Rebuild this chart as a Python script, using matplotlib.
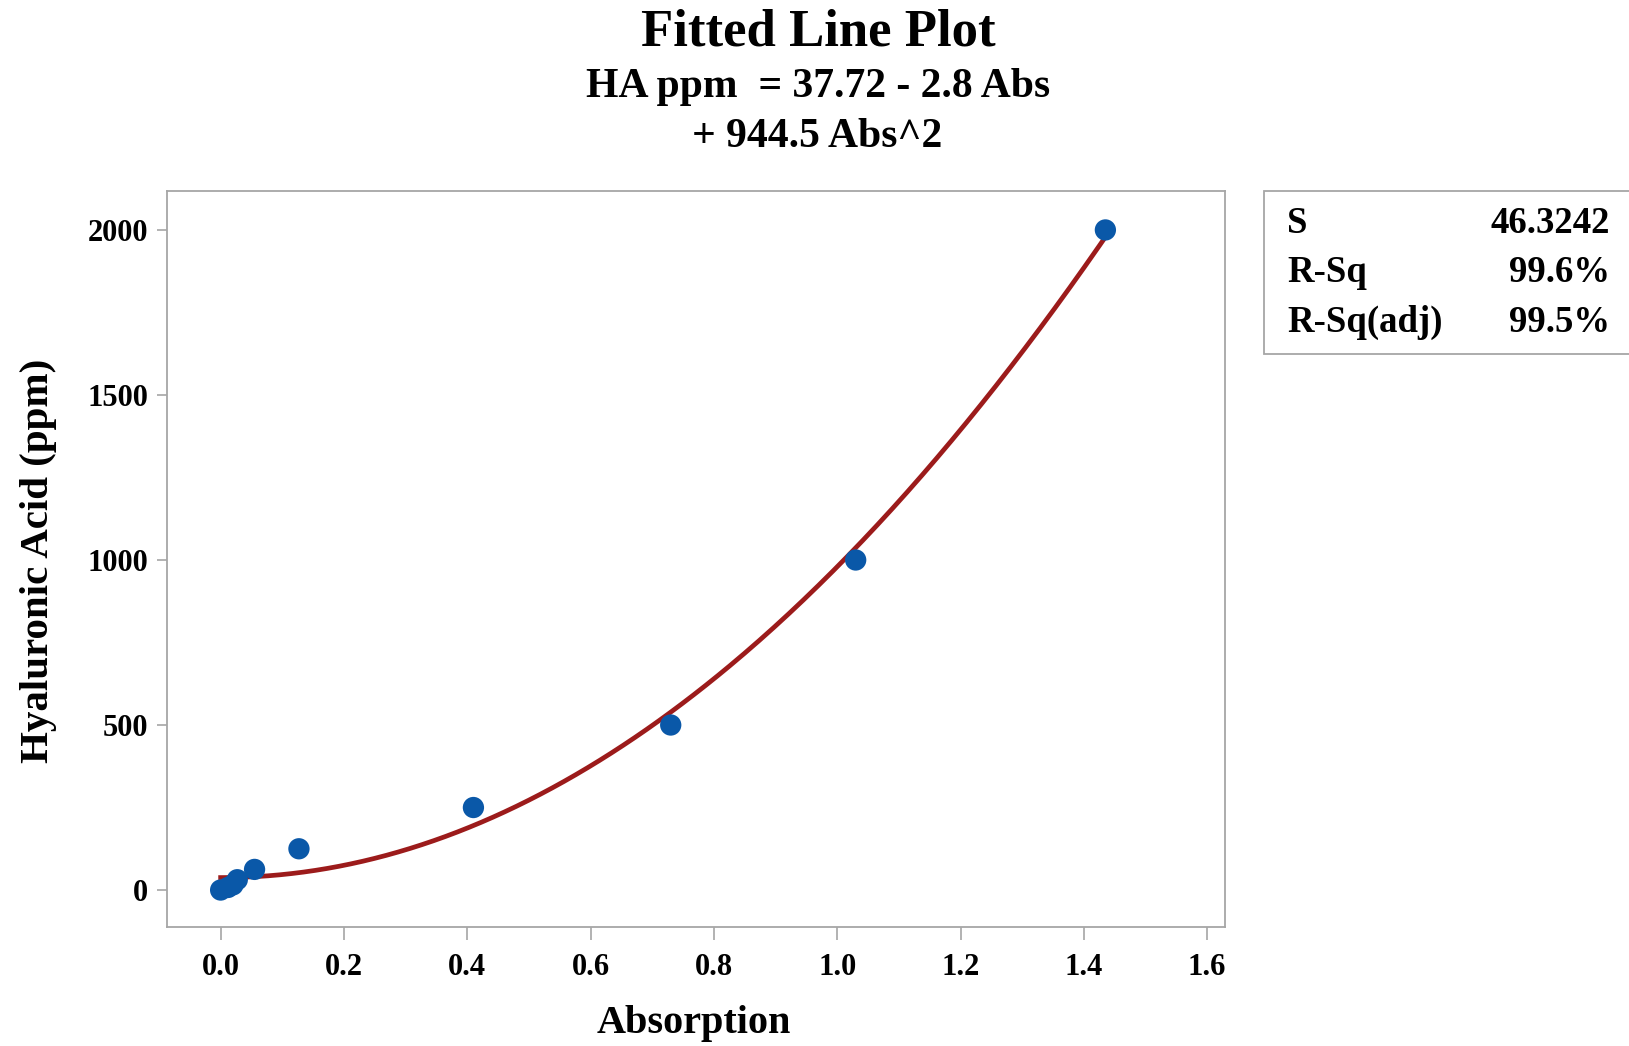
import numpy as np
import matplotlib
matplotlib.use("Agg")
import matplotlib.pyplot as plt
from matplotlib.patches import Rectangle

# Calibration standards: absorbance readings and known concentrations
absorption = [0.000, 0.012, 0.020, 0.027, 0.055, 0.127, 0.410, 0.730, 1.030, 1.435]
ha_ppm = [0.0, 7.8, 15.6, 31.25, 62.5, 125.0, 250.0, 500.0, 1000.0, 2000.0]

# Quadratic fit coefficients (constant, linear, quadratic)
coef = [37.72, -2.8, 944.5]

stat_names = ["S", "R-Sq", "R-Sq(adj)"]
stat_values = ["46.3242", "99.6%", "99.5%"]

x_ticks = [0.0, 0.2, 0.4, 0.6, 0.8, 1.0, 1.2, 1.4, 1.6]
y_ticks = [0, 500, 1000, 1500, 2000]

SERIF = "Liberation Serif"
GRAY = "#a6a6a6"
DOT = "#0a58a8"
LINE = "#9c1b1b"

W, H = 1629, 1046
fig = plt.figure(figsize=(W / 100, H / 100), dpi=100)
ax = fig.add_axes([167 / W, 1 - 927 / H, (1225 - 167) / W, (927 - 191) / H])

xs = np.linspace(min(absorption), max(absorption), 300)
ax.plot(xs, coef[0] + coef[1] * xs + coef[2] * xs ** 2, color=LINE, lw=3.4, zorder=2)
ax.scatter(absorption, ha_ppm, s=235, color=DOT, edgecolors="none", zorder=3)

ax.set_xlim(-0.087, 1.629)
ax.set_ylim(-112, 2118)
ax.set_xticks(x_ticks)
ax.set_xticklabels([f"{v:.1f}" for v in x_ticks])
ax.set_yticks(y_ticks)
ax.set_yticklabels([str(v) for v in y_ticks])

for sp in ax.spines.values():
    sp.set_color(GRAY)
    sp.set_linewidth(1.3)
ax.tick_params(axis="both", direction="out", width=1.2, color=GRAY, labelsize=22)
ax.tick_params(axis="x", length=9.5, pad=9)
ax.tick_params(axis="y", length=7.5, pad=6)
for lab in ax.get_xticklabels() + ax.get_yticklabels():
    lab.set_fontfamily(SERIF)
    lab.set_fontweight("bold")

# Axis titles
fig.text(694 / W, 1 - 1033 / H, "Absorption", ha="center", va="baseline",
         fontfamily=SERIF, fontweight="bold", fontsize=29)
fig.text(38.5 / W, 1 - 561 / H, "Hyaluronic Acid (ppm)", ha="center", va="center",
         rotation=90, fontfamily=SERIF, fontweight="bold", fontsize=29.5)

# Titles
fig.text(818 / W, 1 - 45 / H, "Fitted Line Plot", ha="center", va="baseline",
         fontfamily=SERIF, fontweight="bold", fontsize=38)
fig.text(818 / W, 1 - 96.7 / H, "HA ppm  = 37.72 - 2.8 Abs", ha="center", va="baseline",
         fontfamily=SERIF, fontweight="bold", fontsize=30)
fig.text(817 / W, 1 - 146.7 / H, "+ 944.5 Abs^2", ha="center", va="baseline",
         fontfamily=SERIF, fontweight="bold", fontsize=30)

# Summary statistics box
box = Rectangle((1264 / W, 1 - 354 / H), 0.3, (354 - 191) / H,
                transform=fig.transFigure, facecolor="white", edgecolor=GRAY,
                linewidth=1.3, clip_on=False)
fig.patches.append(box)
baselines = [233.3, 281.7, 331.7]
for name, val, b in zip(stat_names, stat_values, baselines):
    fig.text(1287 / W, 1 - b / H, name, ha="left", va="baseline",
             fontfamily=SERIF, fontweight="bold", fontsize=26.5)
    fig.text(1610 / W, 1 - b / H, val, ha="right", va="baseline",
             fontfamily=SERIF, fontweight="bold", fontsize=26.5)

fig.savefig("out.png", dpi=100)
